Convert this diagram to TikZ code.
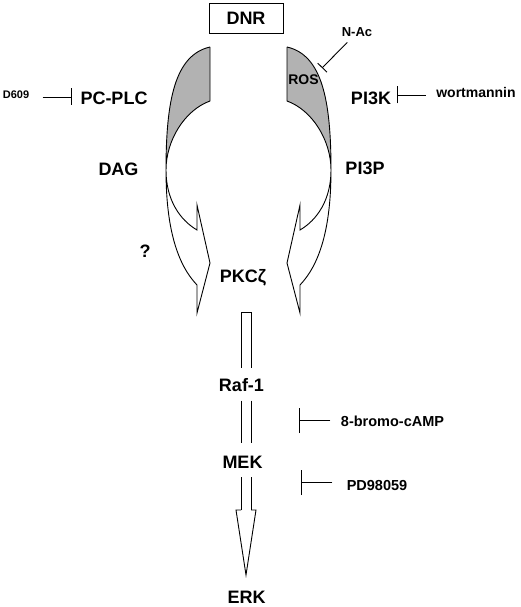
\documentclass[tikz,border=0pt]{standalone}
\usepackage{fontspec}
\setmainfont{Liberation Sans}
\usepackage{tikz}
\usetikzlibrary{arrows.meta}

\begin{document}
\begin{tikzpicture}[x=1pt,y=-1pt,line width=0.9pt,
    lab/.style={font=\bfseries\fontsize{18}{20}\selectfont,anchor=base,inner sep=2pt},
    drug/.style={font=\bfseries\fontsize{#1}{16}\selectfont,anchor=base,inner sep=2pt},
    drug/.default=14,
    inhib/.style={-{Bar[width=#1]}},inhib/.default=17pt]
    \useasboundingbox (0,0) rectangle (520,607);

    % the two twisted ribbons, left one mirrored to the right
    \foreach \s in {1,-1} {
        \begin{scope}[xshift=248.5pt,xscale=\s]
            \fill[black!30] (-38.5,47) -- (-38.5,101) .. controls (-63.5,110) and (-82.5,140) .. (-82.5,170)
                .. controls (-82.5,100) and (-73.5,55) .. cycle;
            \draw (-38.5,47) -- (-38.5,101) .. controls (-63.5,110) and (-82.5,140) .. (-82.5,170)
                .. controls (-82.5,230) and (-70.5,265) .. (-51.5,285) -- (-51.5,313) -- (-38.5,263)
                -- (-51.5,205) -- (-51.5,230) .. controls (-68.5,220) and (-82.5,200) .. (-82.5,170)
                .. controls (-82.5,100) and (-73.5,55) .. (-38.5,47);
        \end{scope}
    }

    \node[draw,lab,anchor=center,minimum width=74pt,minimum height=30pt] (dnr) at (246,18) {DNR};
    \node[lab] (pcplc) at (114,105) {PC-PLC};
    \node[lab] (pitk) at (371,105) {PI3K};
    \node[lab] (dag) at (118.5,175) {DAG};
    \node[lab] (pip) at (365,174) {PI3P};
    \node[lab] (qmark) at (145,257) {?};
    \node[lab] (pkc) at (243,282) {PKCζ};
    \node[lab] (raf) at (241.5,391) {Raf-1};
    \node[lab] (mek) at (242.5,468) {MEK};
    \node[lab] (erk) at (246.5,603) {ERK};

    \node[drug=11] (dsix) at (16,99) {D609};
    \node[drug] (wort) at (476,98) {wortmannin};
    \node[drug=13] (nac) at (357,37) {N-Ac};
    \node[drug] (ros) at (303.5,85) {ROS};
    \node[drug=14.5] (bromo) at (392.5,426) {8-bromo-cAMP};
    \node[drug=14.5] (pdnum) at (377,490) {PD98059};

    % inhibitors
    \coordinate (b1) at (72,97);
    \coordinate (b2) at (397,95);
    \coordinate (b3) at (322,68);
    \coordinate (b4) at (299,420.5);
    \coordinate (b5) at (301,482.5);
    \draw[inhib,shorten <=11pt] (b1 -| dsix.east) -- (b1);
    \draw[inhib,shorten <=8pt] (b2 -| wort.west) -- (b2);
    \draw[inhib=13pt,shorten <=4pt] (nac) -- (b3);
    \draw[inhib=25pt,shorten <=8pt] (b4 -| bromo.west) -- (b4);
    \draw[inhib=25pt,shorten <=12pt] (b5 -| pdnum.west) -- (b5);

    % main cascade, a hollow arrow broken by the labels
    \coordinate (shtop) at (246,312);
    \coordinate (shbase) at (246,510);
    \draw (241,312) -- (251,312);
    \foreach \dx in {-5,5} {
        \draw[shorten >=8pt] ([xshift=\dx pt]shtop) -- ([xshift=\dx pt]shtop |- raf.north);
        \draw[shorten <=7pt,shorten >=10pt] ([xshift=\dx pt]shtop |- raf.south) -- ([xshift=\dx pt]shtop |- mek.north);
        \draw[shorten <=7pt] ([xshift=\dx pt]shtop |- mek.south) -- ([xshift=\dx pt]shbase);
    }
    \draw (241,510) -- (236,510) -- (246,575) -- (256,510) -- (251,510);
\end{tikzpicture}
\end{document}
